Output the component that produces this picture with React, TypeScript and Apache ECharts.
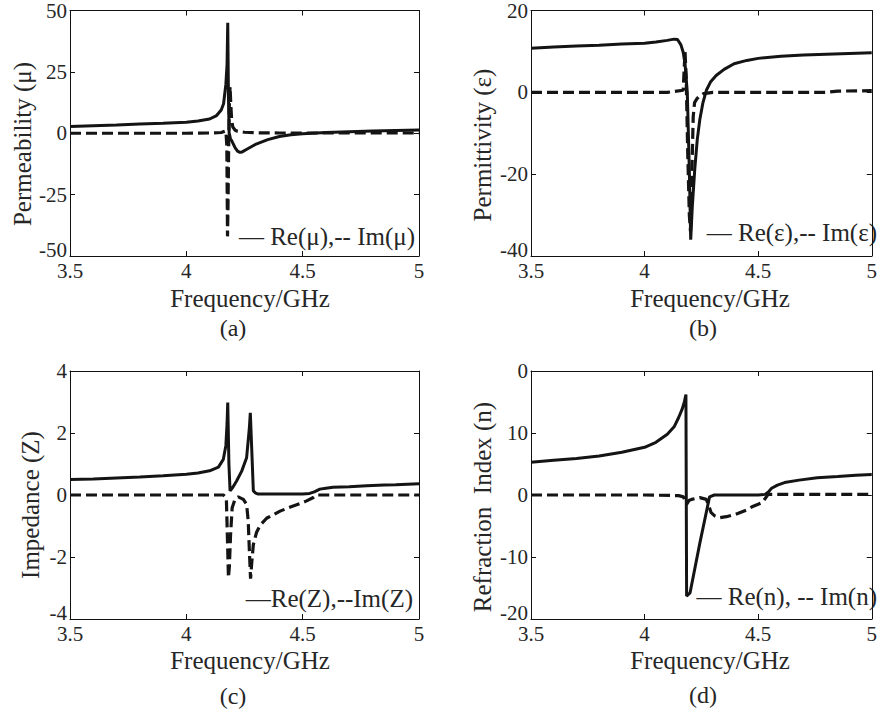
import React, { useEffect, useRef } from "react";
import * as echarts from "echarts";

// ---------- axes ----------
const xMin = 3.5;
const xMax = 5;
const xInterval = 0.5;
const yRangeA = [-50, 50, 25];
const yRangeB = [-40, 20, 20];
const yRangeC = [-4, 4, 2];
const yRangeD = [-20, 20, 10];
const yTicksD = [-20, -10, 0, 10, 20];
const yTickLabelsD = ["-20", "-10", "0", "10", "0"];

// ---------- (a) permeability ----------
const aReFreq = [3.5, 3.6, 3.7, 3.8, 3.9, 4.0, 4.05, 4.1, 4.13, 4.15, 4.16, 4.17, 4.175, 4.178, 4.181, 4.184, 4.187, 4.19, 4.195, 4.2, 4.21, 4.22, 4.23, 4.24, 4.26, 4.3, 4.35, 4.4, 4.45, 4.5, 4.6, 4.7, 4.8, 4.9, 5.0];
const aRe = [2.8, 3.1, 3.4, 3.8, 4.1, 4.5, 5.0, 5.8, 7.2, 9.5, 12, 20, 28, 45, 15, 0, -1, -2.5, -3, -4, -6, -7.3, -7.8, -7.6, -6.5, -4.4, -2.6, -1.3, -0.6, -0.2, 0.3, 0.6, 0.9, 1.1, 1.3];
const aImFreq = [3.5, 4.0, 4.1, 4.15, 4.17, 4.174, 4.177, 4.179, 4.182, 4.185, 4.188, 4.191, 4.195, 4.2, 4.21, 4.22, 4.25, 4.3, 4.4, 5.0];
const aIm = [0, 0, 0.1, 0.3, 1, -5, -42, -30, -5, 12, 19, 12, 5, 2.5, 1.2, 0.8, 0.4, 0.2, 0.1, 0.1];

// ---------- (b) permittivity ----------
const bReFreq = [3.5, 3.6, 3.7, 3.8, 3.9, 4.0, 4.05, 4.1, 4.13, 4.145, 4.16, 4.17, 4.178, 4.188, 4.197, 4.203, 4.21, 4.221, 4.232, 4.243, 4.257, 4.272, 4.29, 4.315, 4.35, 4.394, 4.45, 4.5, 4.6, 4.7, 4.8, 4.9, 5.0];
const bRe = [10.8, 11.1, 11.3, 11.5, 11.8, 12.0, 12.3, 12.7, 13.0, 12.9, 11.6, 9.8, 7.0, 0, -19, -36, -28, -18.7, -11.5, -6.7, -2.5, 0.5, 2.5, 4.1, 5.6, 7.0, 7.8, 8.3, 8.8, 9.1, 9.3, 9.5, 9.7];
const bImFreq = [3.5, 4.0, 4.1, 4.17, 4.178, 4.183, 4.19, 4.197, 4.202, 4.208, 4.214, 4.22, 4.23, 4.24, 4.26, 4.3, 4.5, 4.8, 4.85, 5.0];
const bIm = [0, 0, 0, 0.5, 10, 4, -15, -30, -34, -20, -6, -2.5, -1.6, -1.0, -0.3, 0, 0, 0, 0.3, 0.4];

// ---------- (c) impedance ----------
const cReFreq = [3.5, 3.6, 3.7, 3.8, 3.9, 4.0, 4.05, 4.1, 4.138, 4.159, 4.17, 4.175, 4.178, 4.183, 4.188, 4.2, 4.216, 4.238, 4.259, 4.271, 4.275, 4.281, 4.288, 4.298, 4.309, 4.35, 4.4, 4.5, 4.53, 4.55, 4.574, 4.6, 4.63, 4.7, 4.775, 4.85, 4.9, 5.0];
const cRe = [0.5, 0.52, 0.55, 0.58, 0.62, 0.67, 0.71, 0.78, 0.9, 1.15, 1.6, 2.3, 2.98, 1.0, 0.13, 0.25, 0.45, 0.77, 1.2, 2.17, 2.65, 1.5, 0.13, 0.06, 0.03, 0.03, 0.03, 0.03, 0.05, 0.1, 0.19, 0.22, 0.25, 0.27, 0.3, 0.32, 0.33, 0.36];
const cImFreq = [3.5, 4.0, 4.16, 4.172, 4.177, 4.181, 4.185, 4.19, 4.197, 4.209, 4.223, 4.245, 4.259, 4.266, 4.271, 4.276, 4.281, 4.288, 4.302, 4.317, 4.345, 4.403, 4.45, 4.488, 4.517, 4.546, 4.56, 5.0];
const cIm = [0, 0, 0, -0.1, -1.5, -2.67, -2.3, -1.3, -0.41, -0.14, -0.06, -0.14, -0.3, -0.84, -1.8, -2.7, -2.2, -1.6, -1.2, -0.98, -0.75, -0.52, -0.38, -0.28, -0.19, -0.08, 0, 0];

// ---------- (d) refraction index ----------
const dReFreq = [3.5, 3.6, 3.7, 3.8, 3.9, 4.0, 4.05, 4.1, 4.13, 4.15, 4.165, 4.175, 4.182, 4.185, 4.2, 4.243, 4.286, 4.307, 4.4, 4.5, 4.53, 4.545, 4.559, 4.585, 4.616, 4.68, 4.76, 4.85, 4.93, 5.0];
const dRe = [5.3, 5.6, 5.9, 6.3, 6.9, 7.7, 8.5, 9.8, 11.0, 12.5, 13.8, 15.0, 16.2, -16.3, -15.8, -7.8, -0.3, 0, 0, 0, 0.1, 0.5, 1.08, 1.6, 2.0, 2.4, 2.8, 3.0, 3.2, 3.3];
const dImFreq = [3.5, 4.0, 4.15, 4.171, 4.185, 4.195, 4.207, 4.243, 4.272, 4.283, 4.293, 4.31, 4.329, 4.36, 4.401, 4.45, 4.473, 4.5, 4.516, 4.53, 4.544, 5.0];
const dIm = [0, 0, -0.1, -0.3, -1.5, -0.9, -0.7, -0.43, -0.7, -1.8, -2.85, -3.4, -3.66, -3.5, -3.1, -2.4, -1.9, -1.5, -1.24, -0.6, 0.1, 0.1];

// ---------- texts ----------
const xName = "Frequency/GHz";
const yNames = ["Permeability (μ)", "Permittivity (ε)", "Impedance (Z)", "Refraction  Index (n)"];
const legendTexts = ["— Re(μ),-- Im(μ)", "— Re(ε),-- Im(ε)", "—Re(Z),--Im(Z)", "— Re(n), -- Im(n)"];
const panelLabels = ["(a)", "(b)", "(c)", "(d)"];

const FONT = "'Liberation Serif', 'Times New Roman', serif";
const INK = "#141414";
const TEXT = "#262626";

const zip = (xs: number[], ys: number[]) => xs.map((x, i) => [x, ys[i]]);

export default function App() {
  const ref = useRef<HTMLDivElement>(null);
  useEffect(() => {
    if (!ref.current) return;
    const chart = echarts.init(ref.current, undefined, { renderer: "svg" });

    const grids = [
      { left: 70, top: 7, width: 349, height: 249 },
      { left: 531, top: 7, width: 349, height: 249 },
      { left: 70, top: 371, width: 349, height: 248 },
      { left: 531, top: 371, width: 349, height: 248 },
    ];
    const yRanges = [yRangeA, yRangeB, yRangeC, yRangeD];

    const axisLine = { show: true, onZero: false, lineStyle: { color: "#111", width: 1 } };
    const axisTick = { show: true, inside: true, length: 5, lineStyle: { color: "#111", width: 1 } };

    const xAxis: any[] = [];
    const yAxis: any[] = [];
    grids.forEach((_, i) => {
      xAxis.push({
        type: "value", gridIndex: i, min: xMin, max: xMax, interval: xInterval, position: "bottom",
        axisLine, axisTick, splitLine: { show: false },
        axisLabel: { fontFamily: FONT, fontSize: 21, color: TEXT, margin: 4, formatter: (v: number) => String(v) },
      });
      xAxis.push({
        type: "value", gridIndex: i, min: xMin, max: xMax, interval: xInterval, position: "top",
        axisLine, axisTick, splitLine: { show: false }, axisLabel: { show: false },
      });
      const [mn, mx, iv] = yRanges[i];
      yAxis.push({
        type: "value", gridIndex: i, min: mn, max: mx, interval: iv, position: "left",
        axisLine, axisTick, splitLine: { show: false },
        axisLabel: {
          fontFamily: FONT, fontSize: 21, color: TEXT, margin: 3,
          formatter: (v: number) => {
            let s = String(v);
            if (i === 3) {
              const k = yTicksD.indexOf(v);
              if (k >= 0) s = yTickLabelsD[k];
            }
            return v === mn ? "{lo|" + s + "}" : s;
          },
          rich: { lo: { fontFamily: FONT, fontSize: 21, color: TEXT, padding: [0, 0, 12, 0] } },
        },
      });
      yAxis.push({
        type: "value", gridIndex: i, min: mn, max: mx, interval: iv, position: "right",
        axisLine, axisTick, splitLine: { show: false }, axisLabel: { show: false },
      });
    });

    const pairs: [number[], number[], number[], number[]][] = [
      [aReFreq, aRe, aImFreq, aIm],
      [bReFreq, bRe, bImFreq, bIm],
      [cReFreq, cRe, cImFreq, cIm],
      [dReFreq, dRe, dImFreq, dIm],
    ];
    const series: any[] = [];
    pairs.forEach(([rf, rv, imf, imv], i) => {
      series.push({
        type: "line", xAxisIndex: 2 * i, yAxisIndex: 2 * i, data: zip(rf, rv),
        showSymbol: false, symbol: "none", clip: true,
        lineStyle: { color: INK, width: 3, type: "solid" },
      });
      series.push({
        type: "line", xAxisIndex: 2 * i, yAxisIndex: 2 * i, data: zip(imf, imv),
        showSymbol: false, symbol: "none", clip: true,
        lineStyle: { color: INK, width: 3.2, type: [11, 5] },
      });
    });

    const txt = (text: string, x: number, y: number, size: number, align: string, rot = 0) => ({
      type: "text", x, y, rotation: rot,
      style: {
        text, fontFamily: FONT, fontSize: size, fill: TEXT,
        textAlign: align, textVerticalAlign: "middle", align, verticalAlign: "middle",
      },
    });

    const graphic: any[] = [
      txt(xName, 250, 298, 25, "center"),
      txt(xName, 710, 298, 25, "center"),
      txt(xName, 250, 660, 25, "center"),
      txt(xName, 710, 660, 25, "center"),
      txt(yNames[0], 22, 144, 25, "center", Math.PI / 2),
      txt(yNames[1], 482, 145, 25, "center", Math.PI / 2),
      txt(yNames[2], 30, 505, 25, "center", Math.PI / 2),
      txt(yNames[3], 482, 507, 25, "center", Math.PI / 2),
      txt(legendTexts[0], 415, 236, 25, "right"),
      txt(legendTexts[1], 877, 232, 25, "right"),
      txt(legendTexts[2], 413, 598, 25, "right"),
      txt(legendTexts[3], 877, 596, 25, "right"),
      txt(panelLabels[0], 233, 328, 24, "center"),
      txt(panelLabels[1], 703, 328, 24, "center"),
      txt(panelLabels[2], 233, 696, 24, "center"),
      txt(panelLabels[3], 703, 695, 24, "center"),
    ];

    chart.setOption({
      animation: false,
      backgroundColor: "#ffffff",
      grid: grids,
      xAxis,
      yAxis,
      series,
      graphic,
    });
    return () => chart.dispose();
  }, []);

  return (
    <div
      ref={ref}
      style={{ position: "absolute", left: 0, top: 0, width: 880, height: 713, background: "#fff" }}
    />
  );
}
